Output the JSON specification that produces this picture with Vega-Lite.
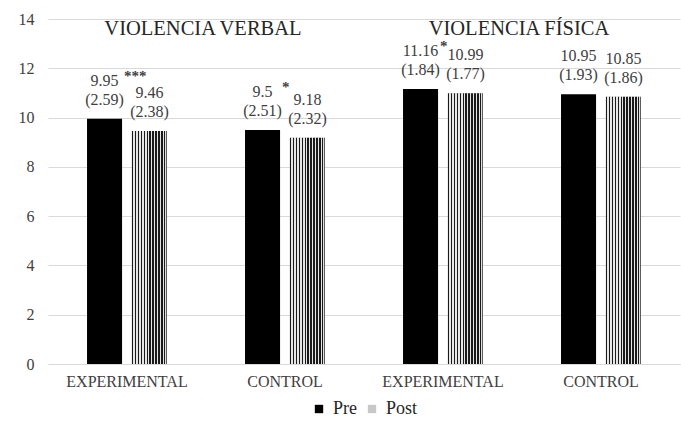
{
  "$schema": "https://vega.github.io/schema/vega-lite/v6.json",
  "width": 632,
  "height": 345,
  "autosize": {"type": "none"},
  "padding": {"left": 48, "top": 19, "right": 1, "bottom": 60},
  "background": "white",
  "config": {
    "font": "Liberation Serif, Times New Roman, DejaVu Serif, serif",
    "view": {"stroke": null},
    "text": {"font": "Liberation Serif, Times New Roman, DejaVu Serif, serif"},
    "axis": {"labelFont": "Liberation Serif, Times New Roman, DejaVu Serif, serif", "labelFontSize": 16, "labelColor": "#404040"},
    "legend": {"labelFont": "Liberation Serif, Times New Roman, DejaVu Serif, serif", "labelFontSize": 18, "labelColor": "#262626"}
  },
  "datasets": {
    "barras": [
      {"grupo": "VV-EXP", "tiempo": "Pre", "media": 9.95, "sd": 2.59, "sig": "***"},
      {"grupo": "VV-EXP", "tiempo": "Post", "media": 9.46, "sd": 2.38},
      {"grupo": "VV-CON", "tiempo": "Pre", "media": 9.5, "sd": 2.51, "sig": "*"},
      {"grupo": "VV-CON", "tiempo": "Post", "media": 9.18, "sd": 2.32},
      {"grupo": "VF-EXP", "tiempo": "Pre", "media": 11.16, "sd": 1.84, "sig": "*"},
      {"grupo": "VF-EXP", "tiempo": "Post", "media": 10.99, "sd": 1.77},
      {"grupo": "VF-CON", "tiempo": "Pre", "media": 10.95, "sd": 1.93},
      {"grupo": "VF-CON", "tiempo": "Post", "media": 10.85, "sd": 1.86}
    ],
    "titulos": [
      {"grupo": "VV-EXP", "titulo": "VIOLENCIA VERBAL", "y": 13.6},
      {"grupo": "VF-EXP", "titulo": "VIOLENCIA FÍSICA", "y": 13.6}
    ]
  },
  "data": {"name": "barras"},
  "encoding": {
    "x": {
      "field": "grupo",
      "type": "nominal",
      "scale": {"domain": ["VV-EXP", "VV-CON", "VF-EXP", "VF-CON"], "paddingInner": 0.494, "paddingOuter": 0.247},
      "axis": {
        "title": null,
        "labelAngle": 0,
        "ticks": false,
        "domain": true,
        "domainColor": "#d9d9d9",
        "labelPadding": 9,
        "labelExpr": "indexof(datum.value, 'EXP') >= 0 ? 'EXPERIMENTAL' : 'CONTROL'"
      }
    },
    "y": {
      "field": "media",
      "type": "quantitative",
      "scale": {"domain": [0, 14]},
      "axis": {
        "title": null,
        "values": [0, 2, 4, 6, 8, 10, 12, 14],
        "ticks": false,
        "domain": false,
        "gridColor": "#d9d9d9",
        "labelPadding": 14
      }
    },
    "xOffset": {
      "field": "tiempo",
      "type": "nominal",
      "scale": {"domain": ["Pre", "Post"], "paddingInner": 0.22, "paddingOuter": 0}
    }
  },
  "layer": [
    {
      "mark": {"type": "bar"},
      "encoding": {
        "color": {
          "field": "tiempo",
          "type": "nominal",
          "scale": {"domain": ["Pre", "Post"], "range": ["#000000", "#c8c8c8"]},
          "legend": {
            "title": null,
            "orient": "none",
            "legendX": 262,
            "legendY": 381,
            "direction": "horizontal",
            "symbolType": "square",
            "symbolSize": 70,
            "symbolStrokeWidth": 0,
            "labelOffset": 5,
            "columnPadding": 6
          }
        }
      }
    },
    {
      "transform": [{"filter": "datum.tiempo === 'Post'"}],
      "mark": {
        "type": "bar",
        "fill": {
          "gradient": "linear",
          "x1": 0, "y1": 0, "x2": 1, "y2": 0,
          "stops": [
            {"offset": 0.0, "color": "#1a1a1a"}, {"offset": 0.04, "color": "#1a1a1a"}, {"offset": 0.04, "color": "#e6e6e6"}, {"offset": 0.0833, "color": "#e6e6e6"},
            {"offset": 0.0833, "color": "#1a1a1a"}, {"offset": 0.1233, "color": "#1a1a1a"}, {"offset": 0.1233, "color": "#e6e6e6"}, {"offset": 0.1667, "color": "#e6e6e6"},
            {"offset": 0.1667, "color": "#1a1a1a"}, {"offset": 0.2067, "color": "#1a1a1a"}, {"offset": 0.2067, "color": "#e6e6e6"}, {"offset": 0.25, "color": "#e6e6e6"},
            {"offset": 0.25, "color": "#1a1a1a"}, {"offset": 0.29, "color": "#1a1a1a"}, {"offset": 0.29, "color": "#e6e6e6"}, {"offset": 0.3333, "color": "#e6e6e6"},
            {"offset": 0.3333, "color": "#1a1a1a"}, {"offset": 0.3733, "color": "#1a1a1a"}, {"offset": 0.3733, "color": "#e6e6e6"}, {"offset": 0.4167, "color": "#e6e6e6"},
            {"offset": 0.4167, "color": "#1a1a1a"}, {"offset": 0.4567, "color": "#1a1a1a"}, {"offset": 0.4567, "color": "#e6e6e6"}, {"offset": 0.5, "color": "#e6e6e6"},
            {"offset": 0.5, "color": "#1a1a1a"}, {"offset": 0.54, "color": "#1a1a1a"}, {"offset": 0.54, "color": "#e6e6e6"}, {"offset": 0.5833, "color": "#e6e6e6"},
            {"offset": 0.5833, "color": "#1a1a1a"}, {"offset": 0.6233, "color": "#1a1a1a"}, {"offset": 0.6233, "color": "#e6e6e6"}, {"offset": 0.6667, "color": "#e6e6e6"},
            {"offset": 0.6667, "color": "#1a1a1a"}, {"offset": 0.7067, "color": "#1a1a1a"}, {"offset": 0.7067, "color": "#e6e6e6"}, {"offset": 0.75, "color": "#e6e6e6"},
            {"offset": 0.75, "color": "#1a1a1a"}, {"offset": 0.79, "color": "#1a1a1a"}, {"offset": 0.79, "color": "#e6e6e6"}, {"offset": 0.8333, "color": "#e6e6e6"},
            {"offset": 0.8333, "color": "#1a1a1a"}, {"offset": 0.8733, "color": "#1a1a1a"}, {"offset": 0.8733, "color": "#e6e6e6"}, {"offset": 0.9167, "color": "#e6e6e6"},
            {"offset": 0.9167, "color": "#1a1a1a"}, {"offset": 0.9567, "color": "#1a1a1a"}, {"offset": 0.9567, "color": "#e6e6e6"}, {"offset": 1.0, "color": "#1a1a1a"}
          ]
        }
      }
    },
    {
      "mark": {"type": "text", "baseline": "middle", "dy": -38, "fontSize": 16, "color": "#404040"},
      "encoding": {"text": {"field": "media", "type": "nominal"}}
    },
    {
      "transform": [{"calculate": "'(' + datum.sd + ')'", "as": "sd_txt"}],
      "mark": {"type": "text", "baseline": "middle", "dy": -19, "fontSize": 16, "color": "#404040"},
      "encoding": {"text": {"field": "sd_txt", "type": "nominal"}}
    },
    {
      "transform": [{"filter": "datum.sig != null"}],
      "mark": {"type": "text", "baseline": "middle", "align": "left", "dx": 19.5, "dy": -43, "fontSize": 15, "fontWeight": "bold", "color": "#404040"},
      "encoding": {"text": {"field": "sig", "type": "nominal"}}
    },
    {
      "data": {"name": "titulos"},
      "mark": {"type": "text", "baseline": "middle", "fontSize": 20.5, "color": "#262626"},
      "encoding": {
        "x": {"field": "grupo", "type": "nominal", "bandPosition": 1.45},
        "y": {"field": "y", "type": "quantitative"},
        "xOffset": null,
        "text": {"field": "titulo", "type": "nominal"}
      }
    }
  ]
}
